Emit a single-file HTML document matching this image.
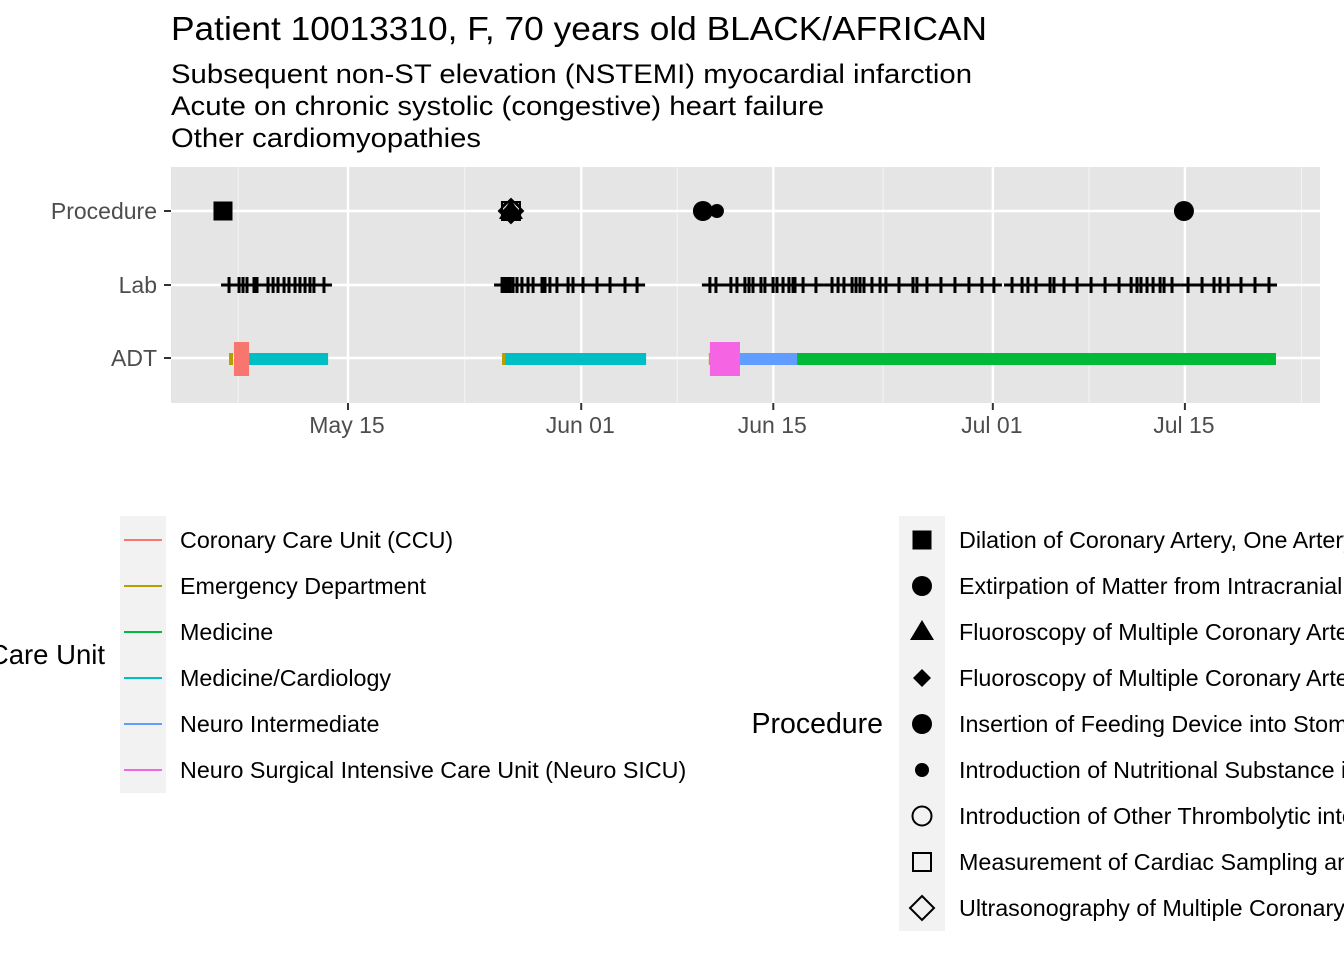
<!DOCTYPE html>
<html><head><meta charset="utf-8"><style>
html,body{margin:0;padding:0;background:#fff;}
svg{display:block;font-family:"Liberation Sans",Arial,sans-serif;}
</style></head><body>
<svg id="chart" width="1344" height="960" viewBox="0 0 1344 960">
<text x="171" y="40" font-size="33" fill="#000" textLength="816" lengthAdjust="spacingAndGlyphs">Patient 10013310, F, 70 years old BLACK/AFRICAN</text>
<g font-size="26.5" fill="#000">
<text x="171" y="83" textLength="801" lengthAdjust="spacingAndGlyphs">Subsequent non-ST elevation (NSTEMI) myocardial infarction</text>
<text x="171" y="115" textLength="653" lengthAdjust="spacingAndGlyphs">Acute on chronic systolic (congestive) heart failure</text>
<text x="171" y="147" textLength="310" lengthAdjust="spacingAndGlyphs">Other cardiomyopathies</text>
</g>
<rect x="171" y="167" width="1149" height="236" fill="#e5e5e5"/>
<g id="grid"></g>
<g id="adt"></g>
<g id="lab"></g>
<g id="proc"></g>
<g id="axes"></g>

<g>
<rect x="120" y="516" width="46" height="277" fill="#f2f2f2"/>
<text x="105" y="664" font-size="27.5" text-anchor="end">Care Unit</text>
<g id="cuLegend" font-size="23.3"></g>
</g>
<g>
<rect x="899" y="516" width="46" height="415" fill="#f2f2f2"/>
<text x="883" y="733" font-size="28.5" text-anchor="end">Procedure</text>
<g id="prLegend" font-size="23.3"></g>
</g>
</svg>
<script>
// ---- data (days since May 1) ----
const rowNames = ["Procedure","Lab","ADT"];
const tickDays = [14, 31, 45, 61, 75];
const tickLabels = ["May 15","Jun 01","Jun 15","Jul 01","Jul 15"];
const minorDays = [6, 22.5, 38, 53, 68, 83.5];
const careUnits = ["Coronary Care Unit (CCU)","Emergency Department","Medicine","Medicine/Cardiology","Neuro Intermediate","Neuro Surgical Intensive Care Unit (Neuro SICU)"];
const careColors = ["#F8766D","#B79F00","#00BA38","#00BFC4","#619CFF","#F564E3"];
const adtUnit = [1, 0, 3, 1, 3, 1, 5, 4, 2];
const adtStart = [5.33, 5.69, 6.79, 25.23, 25.45, 40.3, 40.38, 42.57, 46.73];
const adtEnd = [5.62, 6.79, 12.55, 25.45, 35.73, 40.38, 42.57, 46.73, 81.64];
const adtThick = [0, 1, 0, 0, 0, 0, 1, 0, 0];
const labDays = [5.33,6.06,6.35,6.64,7.15,7.37,8.17,8.54,8.90,9.34,9.70,10.14,10.50,10.87,11.23,11.52,12.25,
25.23,25.44,25.59,25.81,26.03,26.32,26.68,27.12,27.49,28.14,28.36,28.72,29.23,30.04,30.40,31.13,32.15,33.10,34.19,35.07,
40.38,40.82,41.91,42.35,42.93,43.23,43.52,44.10,44.39,44.98,45.27,45.71,46.14,46.44,46.58,47.17,48.11,49.28,49.72,50.15,50.74,51.03,51.32,51.61,52.19,52.78,53.21,54.16,55.18,55.47,56.20,57.22,58.24,59.26,60.21,61.08,62.40,63.13,63.56,64.15,65.17,65.46,66.19,67.14,68.16,69.18,70.20,71.08,71.51,71.80,72.24,72.68,73.19,73.48,74.06,75.23,76.25,77.12,77.56,78.15,79.09,80.11,81.13];
const procNames = ["Dilation of Coronary Artery, One Artery with Drug-eluting Intraluminal Device","Extirpation of Matter from Intracranial Vein","Fluoroscopy of Multiple Coronary Arteries using Low Osmolar Contrast","Fluoroscopy of Multiple Coronary Arteries using Other Contrast","Insertion of Feeding Device into Stomach","Introduction of Nutritional Substance into Upper GI","Introduction of Other Thrombolytic into Peripheral Vein","Measurement of Cardiac Sampling and Pressure, Left Heart","Ultrasonography of Multiple Coronary Arteries, Intravascular"];
const procShapes = ["sqf","cirf","tri","dia","cirf","dot","ciro","sqo","diao"];
const procEventType = [0, 2, 3, 6, 7, 8, 1, 5, 4];
const procEventDay = [4.89, 25.88, 25.88, 25.88, 25.88, 25.88, 39.87, 40.89, 74.93];

// ---- scales ----
const X0 = 155.9, PX = 13.72;
const xs = d => X0 + d * PX;
const rowY = [211, 285, 358];
const NS = "http://www.w3.org/2000/svg";
function mk(tag, attrs, parent){ const e=document.createElementNS(NS,tag); for(const k in attrs) e.setAttribute(k,attrs[k]); parent.appendChild(e); return e; }

const grid = document.getElementById('grid');
minorDays.forEach(d=>{ const l=mk('line',{x1:xs(d),x2:xs(d),y1:167,y2:403,stroke:'#f2f2f2','stroke-width':1.2},grid);

 });
tickDays.forEach(d=>{ const l=mk('line',{x1:xs(d),x2:xs(d),y1:167,y2:403,stroke:'#fff','stroke-width':2.4},grid);

 });
rowY.forEach(y=>{ const l=mk('line',{x1:171,x2:1320,y1:y,y2:y,stroke:'#fff','stroke-width':2.4},grid);

 });

const axes = document.getElementById('axes');
rowNames.forEach((n,i)=>{
  const t=mk('line',{x1:164,x2:171,y1:rowY[i],y2:rowY[i],stroke:'#333','stroke-width':2},axes);
  
  
  const tx=mk('text',{x:157,y:rowY[i]+8,'font-size':23,fill:'#4d4d4d','text-anchor':'end'},axes);
  tx.textContent=n;
  
  
});
tickDays.forEach((d,i)=>{
  const t=mk('line',{x1:xs(d),x2:xs(d),y1:403,y2:410,stroke:'#333','stroke-width':2},axes);
  
  
  const tx=mk('text',{x:xs(d)-1,y:433,'font-size':23,fill:'#4d4d4d','text-anchor':'middle'},axes);
  tx.textContent=tickLabels[i];
  
  
});

const adt = document.getElementById('adt');
adtStart.forEach((s,i)=>{
  const h = adtThick[i] ? 34 : 12;
  const r=mk('rect',{x:xs(s),y:rowY[2]+1-h/2,width:Math.max(1,xs(adtEnd[i])-xs(s)),height:h,fill:careColors[adtUnit[i]]},adt);
  
  
});

const lab = document.getElementById('lab');
labDays.forEach(d=>{
  const x=xs(d), y=rowY[1];
  const g=mk('g',{stroke:'#000','stroke-width':3},lab);
  
  
  mk('line',{x1:x-8,x2:x+8,y1:y,y2:y},g);
  mk('line',{x1:x,x2:x,y1:y-8,y2:y+8},g);
});

function shape(kind, x, y, parent){
  let e;
  switch(kind){
    case 'sqf': e=mk('rect',{x:x-9.5,y:y-9.5,width:19,height:19,fill:'#000'},parent); break;
    case 'cirf': e=mk('circle',{cx:x,cy:y,r:10,fill:'#000'},parent); break;
    case 'dot': e=mk('circle',{cx:x,cy:y,r:7,fill:'#000'},parent); break;
    case 'tri': e=mk('polygon',{points:`${x},${y-12} ${x+12},${y+8} ${x-12},${y+8}`,fill:'#000'},parent); break;
    case 'dia': e=mk('polygon',{points:`${x},${y-9} ${x+9},${y} ${x},${y+9} ${x-9},${y}`,fill:'#000'},parent); break;
    case 'ciro': e=mk('circle',{cx:x,cy:y,r:9.5,fill:'none',stroke:'#000','stroke-width':2},parent); break;
    case 'sqo': e=mk('rect',{x:x-9,y:y-9,width:18,height:18,fill:'none',stroke:'#000','stroke-width':2},parent); break;
    case 'diao': e=mk('polygon',{points:`${x},${y-12} ${x+12},${y} ${x},${y+12} ${x-12},${y}`,fill:'none',stroke:'#000','stroke-width':2},parent); break;
  }
  return e;
}
const proc = document.getElementById('proc');
procEventDay.forEach((d,i)=>{
  const e=shape(procShapes[procEventType[i]], xs(d), rowY[0], proc);
  
  
});

const cu = document.getElementById('cuLegend');
careUnits.forEach((n,i)=>{
  const y=540+46*i;
  const l=mk('line',{x1:124,x2:162,y1:y,y2:y,stroke:careColors[i],'stroke-width':2},cu);
  
  
  const t=mk('text',{x:180,y:y+8},cu);
  t.textContent=n;
  
  
});
const pr = document.getElementById('prLegend');
procNames.forEach((n,i)=>{
  const y=540+46*i;
  const e=shape(procShapes[i], 922, y, pr);
  
  
  const t=mk('text',{x:959,y:y+8},pr);
  t.textContent=n;
  
  
});
</script>
</body></html>
